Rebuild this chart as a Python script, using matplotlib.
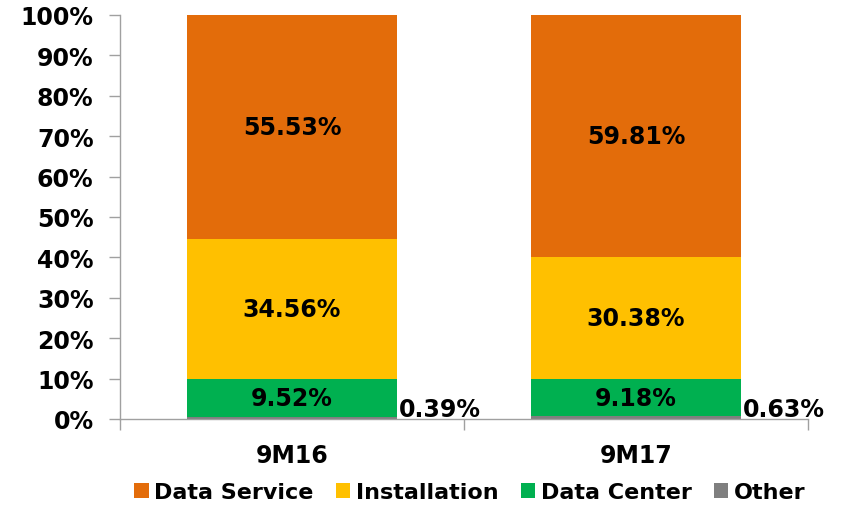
import matplotlib
matplotlib.use("Agg")
import matplotlib.pyplot as plt
from matplotlib.ticker import FuncFormatter, FixedLocator
from matplotlib.patches import Patch

categories = ["9M16", "9M17"]
series_names = ["Other", "Data Center", "Installation", "Data Service"]
other = [0.39, 0.63]
data_center = [9.52, 9.18]
installation = [34.56, 30.38]
data_service = [55.53, 59.81]
colors = {"Data Service": "#E36C0A", "Installation": "#FFC000",
          "Data Center": "#00B050", "Other": "#7F7F7F"}

plt.rcParams['font.family'] = ['DejaVu Sans']
plt.rcParams['font.weight'] = 'bold'

fig = plt.figure(figsize=(8.42, 5.06), dpi=100)
ax = fig.add_axes([120/842, 86/506, 688/842, 404/506])

x = list(range(len(categories)))
width = 0.61
series = [other, data_center, installation, data_service]
bottoms = [0.0] * len(categories)
for name, vals in zip(series_names, series):
    ax.bar(x, vals, width, bottom=bottoms, color=colors[name], label=name, zorder=2)
    if name != "Other":
        for xi, v, b in zip(x, vals, bottoms):
            ax.text(xi, b + v / 2, f"{v:.2f}%", ha='center', va='center',
                    fontsize=17, fontweight='bold', color='black', zorder=3)
    else:
        for xi, v in zip(x, vals):
            ax.text(xi + width / 2 + 0.005, -0.6, f"{v:.2f}%", ha='left', va='bottom',
                    fontsize=17, fontweight='bold', color='black', zorder=3)
    bottoms = [b + v for b, v in zip(bottoms, vals)]

ax.set_xlim(-0.5, 1.5)
ax.set_ylim(0, 100)
ax.set_yticks(range(0, 101, 10))
ax.yaxis.set_major_formatter(FuncFormatter(lambda v, p: f"{int(v)}%"))
ax.set_xticks(x)
ax.set_xticklabels(categories)
ax.xaxis.set_minor_locator(FixedLocator([-0.5, 0.5, 1.5]))
ax.tick_params(axis='x', which='major', length=0, pad=17, labelsize=17)
ax.tick_params(axis='x', which='minor', length=8, color='#A0A0A0', width=1)
ax.tick_params(axis='y', length=8, color='#A0A0A0', width=1, labelsize=17, pad=11)
for lab in ax.get_xticklabels() + ax.get_yticklabels():
    lab.set_fontweight('bold')

for s in ['top', 'right']:
    ax.spines[s].set_visible(False)
for s in ['left', 'bottom']:
    ax.spines[s].set_color('#A0A0A0')
    ax.spines[s].set_linewidth(1)
    ax.spines[s].set_zorder(3)

legend_order = ["Data Service", "Installation", "Data Center", "Other"]
handles = [Patch(facecolor=colors[n], edgecolor='none') for n in legend_order]
leg = fig.legend(handles, legend_order, loc='center', bbox_to_anchor=(470/842, 1 - 493/506),
                 ncol=4, frameon=False, fontsize=16, handlelength=0.65, handleheight=0.65,
                 handletextpad=0.25, columnspacing=1.0)
for t in leg.get_texts():
    t.set_fontweight('bold')

fig.savefig("out.png", dpi=100)
